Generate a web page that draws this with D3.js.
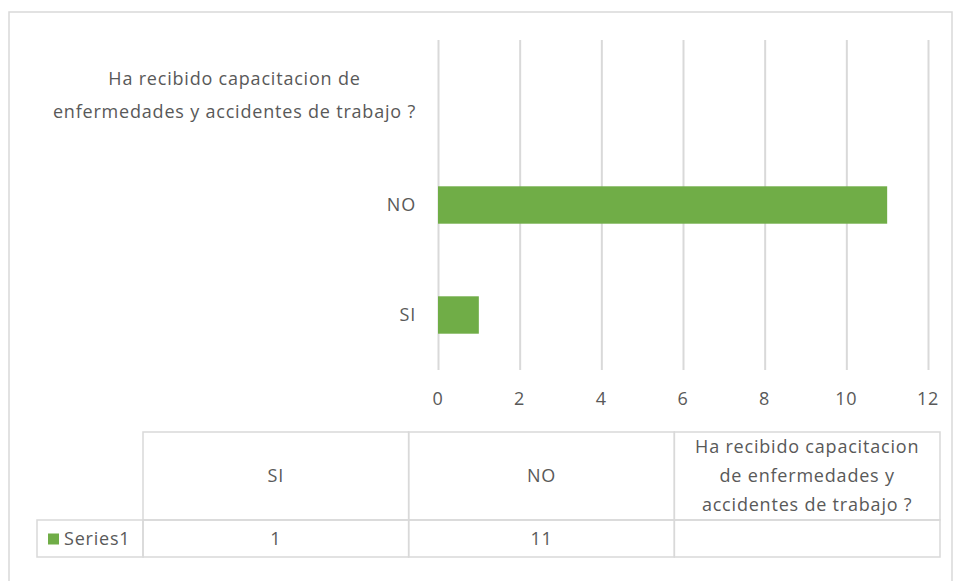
<!DOCTYPE html>
<meta charset="utf-8">
<style>
body { margin: 0; background: #fff; }
text { font-family: "Open Sans", sans-serif; fill: #595959; font-size: 18px; letter-spacing: 0.8px; }
.grid line { stroke: #d9d9d9; stroke-width: 2px; }
.grid path { stroke-width: 0; }
.cell { fill: none; stroke: #d9d9d9; stroke-width: 1.5px; }
</style>
<body>
<script src="https://d3js.org/d3.v7.min.js"></script>
<script>

// chart data
var categories = ["SI", "NO", "Ha recibido capacitacion de enfermedades y accidentes de trabajo ?"];
var values = [1, 11, null];
var seriesName = "Series1";
var xTicks = [0, 2, 4, 6, 8, 10, 12];

// wrapped label lines (axis and table)
var axisLines = { 2: ["Ha recibido capacitacion de", "enfermedades y  accidentes de trabajo ?"] };
var tableLines = { 2: ["Ha recibido capacitacion", "de enfermedades y", "accidentes de trabajo ?"] };

var W = 953, H = 581;
var plot = {left: 438, right: 928, top: 40, bottom: 370};

var svg = d3.select("body").append("svg")
    .attr("width", W)
    .attr("height", H);

// outer chart border
svg.append("rect")
    .attr("x", 9).attr("y", 12)
    .attr("width", 943).attr("height", 600)
    .attr("fill", "none")
    .attr("stroke", "#d9d9d9")
    .attr("stroke-width", 1.5);

var x = d3.scaleLinear().domain([0, 12]).range([plot.left, plot.right]);
var y = d3.scaleBand().domain(d3.range(categories.length))
    .range([plot.bottom, plot.top])
    .paddingInner(0.66).paddingOuter(0.33);

// vertical gridlines
svg.append("g")
    .attr("class", "grid")
    .attr("transform", "translate(0," + plot.bottom + ")")
    .call(d3.axisBottom(x).tickValues(xTicks).tickSize(-(plot.bottom - plot.top)).tickFormat(""));

// bars
svg.selectAll(".bar")
    .data(values.map(function(v, i) { return {v: v, i: i}; }).filter(function(d) { return d.v != null; }))
  .enter().append("rect")
    .attr("class", "bar")
    .attr("x", x(0))
    .attr("y", function(d) { return y(d.i); })
    .attr("width", function(d) { return x(d.v) - x(0); })
    .attr("height", y.bandwidth())
    .attr("fill", "#70ad47");

// x tick labels
svg.selectAll(".xlab")
    .data(xTicks)
  .enter().append("text")
    .attr("x", function(d) { return x(d); })
    .attr("y", 405)
    .attr("text-anchor", "middle")
    .text(function(d) { return d; });

// category labels, right edge at 416
var labelRight = 416;
categories.forEach(function(c, i) {
  var lines = axisLines[i] || [c];
  var cy = y(i) + y.bandwidth() / 2;
  var g = svg.append("g");
  var t = g.append("text")
      .attr("text-anchor", "middle");
  lines.forEach(function(l, k) {
    t.append("tspan")
        .attr("x", 0)
        .attr("y", cy + 6 + (k - (lines.length - 1) / 2) * 33)
        .text(l);
  });
  var w = t.node().getBBox().width;
  g.attr("transform", "translate(" + (labelRight - w / 2) + ",0)");
});

// data table
var tbl = {left: 143, right: 940, top: 432, mid: 520, bottom: 557, legendLeft: 37};
var col = d3.scaleBand().domain(d3.range(categories.length)).range([tbl.left, tbl.right]);

categories.forEach(function(c, i) {
  svg.append("rect").attr("class", "cell")
      .attr("x", col(i)).attr("y", tbl.top)
      .attr("width", col.bandwidth()).attr("height", tbl.mid - tbl.top);
  svg.append("rect").attr("class", "cell")
      .attr("x", col(i)).attr("y", tbl.mid)
      .attr("width", col.bandwidth()).attr("height", tbl.bottom - tbl.mid);

  var lines = tableLines[i] || [c];
  var cx = col(i) + col.bandwidth() / 2;
  var t = svg.append("text")
      .attr("text-anchor", "middle");
  lines.forEach(function(l, k) {
    t.append("tspan")
        .attr("x", cx)
        .attr("y", (tbl.top + tbl.mid) / 2 + 6 + (k - (lines.length - 1) / 2) * 29)
        .text(l);
  });

  if (values[i] != null) {
    svg.append("text")
        .attr("x", cx)
        .attr("y", (tbl.mid + tbl.bottom) / 2 + 6)
        .attr("text-anchor", "middle")
        .text(values[i]);
  }
});

// legend cell
svg.append("rect").attr("class", "cell")
    .attr("x", tbl.legendLeft).attr("y", tbl.mid)
    .attr("width", tbl.left - tbl.legendLeft).attr("height", tbl.bottom - tbl.mid);
svg.append("rect")
    .attr("x", 48).attr("y", (tbl.mid + tbl.bottom) / 2 - 5)
    .attr("width", 11).attr("height", 11)
    .attr("fill", "#70ad47");
svg.append("text")
    .attr("x", 64)
    .attr("y", (tbl.mid + tbl.bottom) / 2 + 6)
    .text(seriesName);

</script>
</body>
